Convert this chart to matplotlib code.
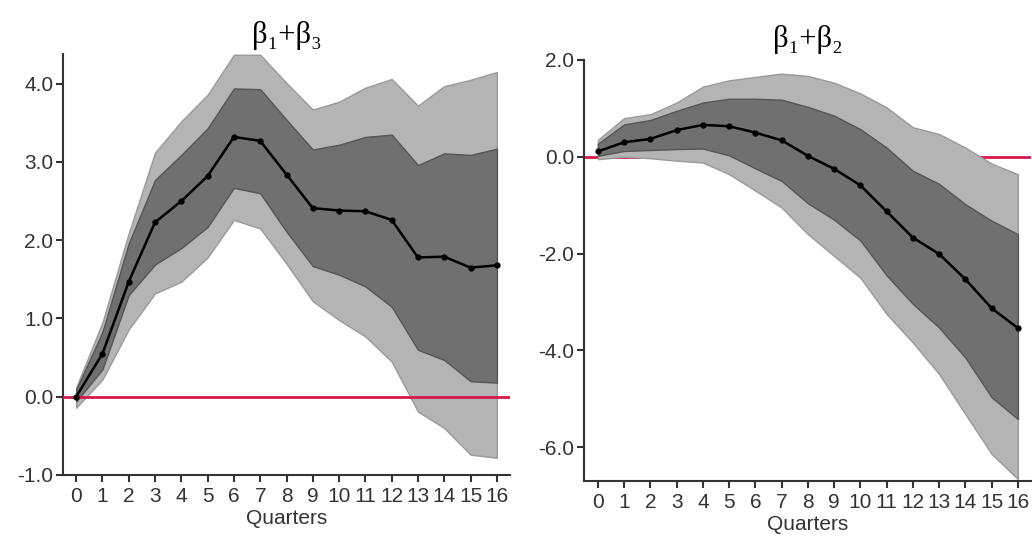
import numpy as np
import matplotlib.pyplot as plt

plt.rcParams['font.family'] = ['Liberation Sans', 'DejaVu Sans']

quarters = np.arange(17)

# beta1 + beta3 (left panel)
b13_mid = [0.0, 0.55, 1.47, 2.23, 2.50, 2.82, 3.32, 3.27, 2.84, 2.41, 2.38, 2.37, 2.26, 1.78, 1.79, 1.65, 1.68]
b13_in_hi = [0.09, 0.83, 1.96, 2.77, 3.09, 3.43, 3.94, 3.93, 3.54, 3.16, 3.22, 3.32, 3.35, 2.96, 3.11, 3.09, 3.17]
b13_in_lo = [-0.06, 0.35, 1.30, 1.69, 1.90, 2.17, 2.67, 2.60, 2.11, 1.67, 1.56, 1.41, 1.15, 0.60, 0.47, 0.20, 0.18]
b13_out_hi = [0.12, 0.95, 2.09, 3.12, 3.52, 3.86, 4.37, 4.37, 4.01, 3.67, 3.77, 3.95, 4.06, 3.72, 3.97, 4.05, 4.15]
b13_out_lo = [-0.14, 0.22, 0.86, 1.32, 1.47, 1.78, 2.26, 2.15, 1.70, 1.22, 0.98, 0.77, 0.45, -0.19, -0.40, -0.74, -0.78]

# beta1 + beta2 (right panel)
b12_mid = [0.11, 0.30, 0.37, 0.55, 0.66, 0.63, 0.50, 0.34, 0.02, -0.25, -0.59, -1.13, -1.67, -2.01, -2.53, -3.13, -3.54]
b12_in_hi = [0.27, 0.67, 0.76, 0.95, 1.12, 1.20, 1.20, 1.18, 1.03, 0.85, 0.57, 0.19, -0.29, -0.56, -0.98, -1.32, -1.60]
b12_in_lo = [0.02, 0.12, 0.14, 0.16, 0.17, 0.03, -0.24, -0.50, -0.96, -1.30, -1.73, -2.45, -3.04, -3.53, -4.15, -4.97, -5.42]
b12_out_hi = [0.35, 0.80, 0.88, 1.12, 1.45, 1.58, 1.65, 1.72, 1.67, 1.53, 1.31, 1.02, 0.61, 0.47, 0.19, -0.14, -0.36]
b12_out_lo = [-0.05, 0.0, -0.03, -0.08, -0.12, -0.36, -0.70, -1.05, -1.60, -2.05, -2.50, -3.25, -3.84, -4.49, -5.32, -6.14, -6.66]

fig = plt.figure(figsize=(10.32, 5.36), dpi=100)
W, H = 1032, 536


def panel(rect, mid, in_lo, in_hi, out_lo, out_hi, title, ylim, yticks, xlim, red_top, title_y):
    x0, y0, x1, y1 = rect
    ax = fig.add_axes([x0 / W, 1 - y1 / H, (x1 - x0) / W, (y1 - y0) / H])
    ax.fill_between(quarters, out_lo, out_hi, color='#b4b4b4', edgecolor='#9a9a9a', lw=1.0, zorder=1)
    ax.fill_between(quarters, in_lo, in_hi, color='#707070', edgecolor='#555555', lw=1.0, zorder=2)
    ax.axhline(0, color='#d5184a', lw=2.0, zorder=3 if red_top else 0.5)
    ax.plot(quarters, mid, color='black', lw=1.8, marker='o', ms=3.5, zorder=4)
    ax.set_xlim(*xlim)
    ax.set_ylim(*ylim)
    ax.set_yticks(yticks)
    ax.set_yticklabels([f'{v:.1f}' for v in yticks])
    ax.set_xticks(quarters)
    for s in ['top', 'right']:
        ax.spines[s].set_visible(False)
    for s in ['left', 'bottom']:
        ax.spines[s].set_color('#333333')
        ax.spines[s].set_linewidth(1.5)
    ax.tick_params(axis='both', length=5, width=1.5, color='#333333',
                   labelsize=15, labelcolor='#333333', pad=2)
    ax.tick_params(axis='x', pad=4)
    ax.set_xlabel('Quarters', fontsize=15, color='#333333', labelpad=2)
    ax.set_facecolor('none')
    fig.text((x0 + x1) / 2 / W, 1 - title_y / H, title, ha='center', va='center',
             fontsize=22, family=['Liberation Serif', 'DejaVu Serif'])
    return ax


panel((63, 54, 510, 475), b13_mid, b13_in_lo, b13_in_hi, b13_out_lo, b13_out_hi,
      'β₁+β₃', (-1.0, 4.38), [-1.0, 0.0, 1.0, 2.0, 3.0, 4.0],
      (-0.5, 16.5), True, 35)
panel((584, 60, 1031, 481), b12_mid, b12_in_lo, b12_in_hi, b12_out_lo, b12_out_hi,
      'β₁+β₂', (-6.7, 2.0), [-6.0, -4.0, -2.0, 0.0, 2.0],
      (-0.53, 16.5), False, 39)

fig.savefig('out.png', dpi=100, facecolor='white')
